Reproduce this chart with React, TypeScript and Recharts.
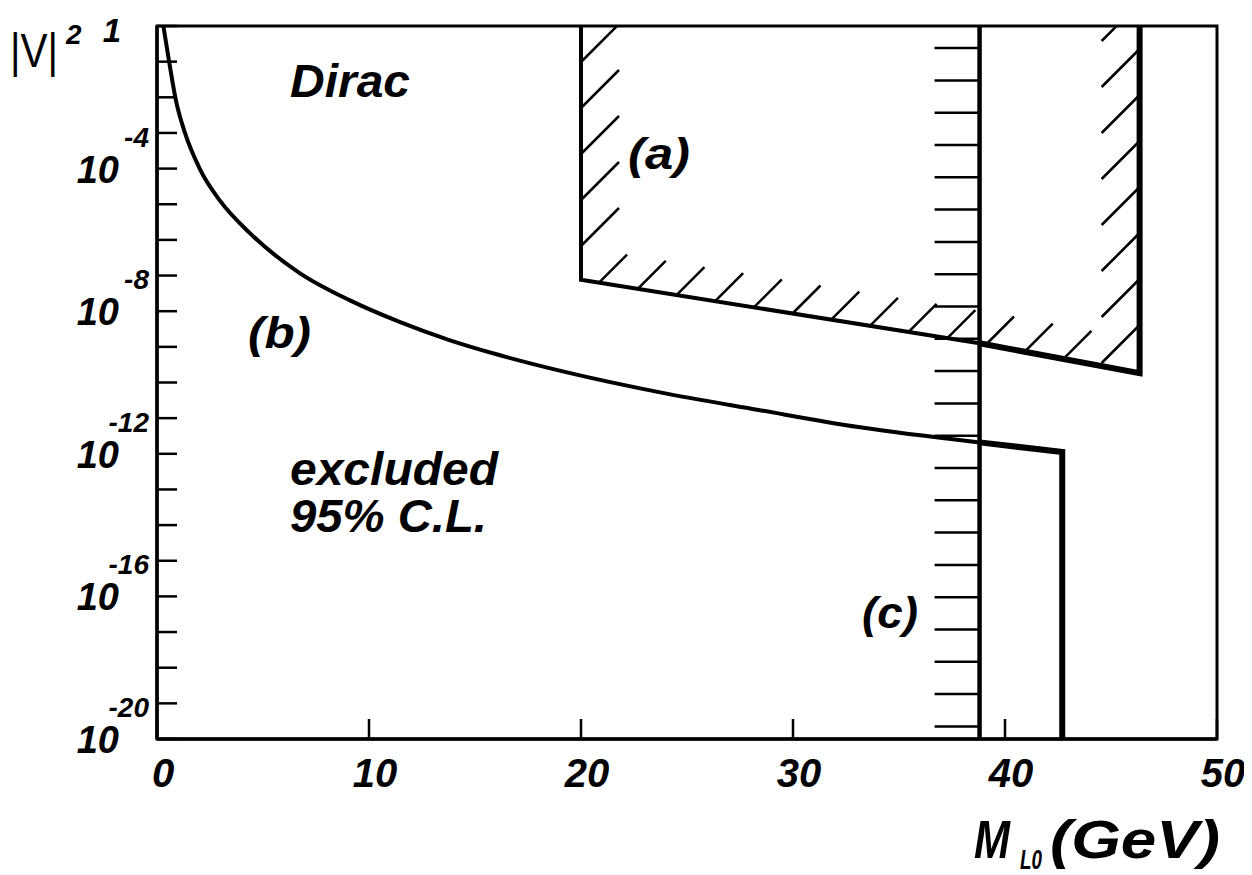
import React from 'react'
import { LineChart, Line, XAxis, YAxis, ReferenceArea } from 'recharts'

const W = 1236
const H = 866
const MARGIN = { top: 18, right: 27, bottom: 135, left: 149 }
const PLOT_LEFT = MARGIN.left
const PLOT_BOTTOM = H - MARGIN.bottom
// pixels per GeV and per decade, used to keep the hatch strokes at 45 degrees
const PX_X = (W - MARGIN.left - MARGIN.right) / 50
const PX_Y = (H - MARGIN.top - MARGIN.bottom) / 20

const FONT = "'Liberation Sans', Arial, Helvetica, sans-serif"

// axis ticks (y values are log10 |V|^2)
const majorX = [0, 10, 20, 30, 40, 50]
const minorX = [2, 4, 6, 8, 12, 14, 16, 18, 22, 24, 26, 28, 32, 34, 36, 38, 42, 44, 46, 48]
const majorY = [0, -1, -2, -3, -4, -5, -6, -7, -8, -9, -10, -11, -12, -13, -14, -15, -16, -17, -18, -19, -20]
const minorY = [-0.3, -1.3, -2.3, -3.3, -4.3, -5.3, -6.3, -7.3, -8.3, -9.3, -10.3, -11.3, -12.3, -13.3, -14.3, -15.3, -16.3, -17.3, -18.3, -19.3]
const labelledY = [0, -4, -8, -12, -16, -20]

// (b) limit curve
const bMass = [0.3, 0.6, 0.88, 1.32, 2.03, 2.97, 4.38, 6.73, 9.08, 11.44, 13.79, 16.14, 19.29, 23.67, 28.38, 33.08, 38.8]
const bLogV2 = [0, -1.1, -2.05, -3.0, -4.02, -4.9, -5.81, -6.93, -7.69, -8.3, -8.81, -9.23, -9.71, -10.27, -10.77, -11.25, -11.68]

// (b) continued past the (c) limit, then the drop at 42.7 GeV
const stepMass = [38.8, 42.7, 42.7]
const stepLogV2 = [-11.68, -11.95, -20]

// (c) mass limit
const cMass = [38.8, 38.8]
const cLogV2 = [0, -20]

// (a) excluded region boundary
const aLeftMass = [20, 20, 38.8]
const aLeftLogV2 = [0, -7.12, -8.9]
const aRightMass = [38.8, 46.35, 46.35]
const aRightLogV2 = [-8.9, -9.74, 0]

const pts = (xs: number[], ys: number[]) => xs.map((x, i) => ({ x, e: ys[i] }))

const aLowerMass = [20, 38.8, 46.35]
const aLowerLogV2 = [-7.12, -8.9, -9.74]
function aLower(x: number) {
  for (let i = 0; i < aLowerMass.length - 1; i++) {
    const x0 = aLowerMass[i], x1 = aLowerMass[i + 1]
    if (x <= x1) return aLowerLogV2[i] + ((x - x0) / (x1 - x0)) * (aLowerLogV2[i + 1] - aLowerLogV2[i])
  }
  return aLowerLogV2[aLowerLogV2.length - 1]
}

type Seg = [number, number, number, number]
function segData(segs: Seg[]) {
  const out: { x: number; e: number | null }[] = []
  segs.forEach(([x1, e1, x2, e2]) => {
    out.push({ x: x1, e: e1 }, { x: x2, e: e2 }, { x: x2, e: null })
  })
  return out
}

function hatchA(): Seg[] {
  const segs: Seg[] = []
  const longX = 38 / PX_X, longY = 38 / PX_Y
  const shortX = 28 / PX_X, shortY = 28 / PX_Y
  // along the left edge
  for (let e = -1.01; e > aLowerLogV2[0]; e -= 46 / PX_Y) {
    segs.push([20, e, 20 + longX, e + longY])
  }
  // along the lower edge
  for (let x = 20.85; x < 44.3; x += 38.7 / PX_X) {
    const e = aLower(x)
    segs.push([x, e, x + shortX, e + shortY])
  }
  // along the right edge
  for (let e = 0.645; e - longY > aLower(46.35 - longX); e -= 46 / PX_Y) {
    segs.push([46.35 - longX, e - longY, 46.35, e])
  }
  return segs
}

function hatchC(): Seg[] {
  const segs: Seg[] = []
  for (let e = -0.62; e > -20; e -= 32.3 / PX_Y) {
    segs.push([38.8 - 45 / PX_X, e, 38.8, e])
  }
  return segs
}

const XTick = (props: any) => {
  const { x, payload } = props
  return (
    <text x={x + 6} y={PLOT_BOTTOM + 48} textAnchor="middle" fontFamily={FONT} fontWeight="bold" fontStyle="italic" fontSize={40} fill="#000">
      {payload.value}
    </text>
  )
}

const YTick = (props: any) => {
  const { y, payload } = props
  const v = payload.value
  if (!labelledY.includes(v)) return <g />
  if (v === 0) {
    return (
      <text x={PLOT_LEFT - 36} y={y + 16} textAnchor="end" fontFamily={FONT} fontWeight="bold" fontStyle="italic" fontSize={33} fill="#000">
        1
      </text>
    )
  }
  return (
    <g fontFamily={FONT} fontWeight="bold" fontStyle="italic" fill="#000">
      <text x={PLOT_LEFT - 38} y={y + 14} textAnchor="end" fontSize={38}>10</text>
      <text x={PLOT_LEFT - 8} y={y - 22} textAnchor="end" fontSize={28}>{String(v)}</text>
    </g>
  )
}

export default function App() {
  const txt = { fontFamily: FONT, fontWeight: 'bold' as const, fontStyle: 'italic' as const, fill: '#000' }
  return (
    <div style={{ position: 'relative', width: W, height: H }}>
      <LineChart width={W} height={H} margin={MARGIN}>
        <XAxis xAxisId={0} type="number" dataKey="x" domain={[0, 50]} ticks={majorX} interval={0} allowDataOverflow
          mirror tickSize={20} tickMargin={0} tick={<XTick />} axisLine={{ stroke: '#000', strokeWidth: 3.5 }} tickLine={{ stroke: '#000', strokeWidth: 2.5 }} />
        <XAxis xAxisId="minor" type="number" dataKey="x" domain={[0, 50]} ticks={minorX} interval={0} allowDataOverflow
          mirror tickSize={10} tick={false} axisLine={false} tickLine={{ stroke: '#000', strokeWidth: 2.5 }} />
        <YAxis yAxisId={0} type="number" domain={[-20, 0]} ticks={majorY} interval={0} allowDataOverflow
          mirror tickSize={20} tickMargin={0} tick={<YTick />} axisLine={{ stroke: '#000', strokeWidth: 3.5 }} tickLine={{ stroke: '#000', strokeWidth: 2.5 }} />
        <YAxis yAxisId="minor" type="number" domain={[-20, 0]} ticks={minorY} interval={0} allowDataOverflow
          mirror tickSize={10} tick={false} axisLine={false} tickLine={{ stroke: '#000', strokeWidth: 2.5 }} />
        <ReferenceArea x1={0} x2={50} y1={-20} y2={0} fill="none" stroke="#000" strokeWidth={3} />

        <Line data={segData(hatchA())} dataKey="e" stroke="#000" strokeWidth={2.5} dot={false} connectNulls={false} isAnimationActive={false} />
        <Line data={segData(hatchC())} dataKey="e" stroke="#000" strokeWidth={2.5} dot={false} connectNulls={false} isAnimationActive={false} />
        <Line data={pts(aLeftMass, aLeftLogV2)} dataKey="e" stroke="#000" strokeWidth={4} dot={false} isAnimationActive={false} />
        <Line data={pts(aRightMass, aRightLogV2)} dataKey="e" stroke="#000" strokeWidth={6} dot={false} isAnimationActive={false} />
        <Line data={pts(cMass, cLogV2)} dataKey="e" stroke="#000" strokeWidth={4.5} dot={false} isAnimationActive={false} />
        <Line data={pts(bMass, bLogV2)} type="monotone" dataKey="e" stroke="#000" strokeWidth={4} dot={false} isAnimationActive={false} />
        <Line data={pts(stepMass, stepLogV2)} dataKey="e" stroke="#000" strokeWidth={6} dot={false} isAnimationActive={false} />
      </LineChart>

      <svg width={W} height={H} style={{ position: 'absolute', left: 0, top: 0, pointerEvents: 'none', overflow: 'visible' }}>
        <text x={2} y={59} fontFamily={FONT} fontSize={48} textLength={48} lengthAdjust="spacingAndGlyphs" fill="#000">|V|</text>
        <text x={58} y={36} fontSize={28} {...txt}>2</text>

        <text x={282} y={89} fontSize={46} textLength={120} lengthAdjust="spacingAndGlyphs" {...txt}>Dirac</text>
        <text x={620} y={161} fontSize={44} textLength={62} lengthAdjust="spacingAndGlyphs" {...txt}>(a)</text>
        <text x={240} y={340} fontSize={44} textLength={63} lengthAdjust="spacingAndGlyphs" {...txt}>(b)</text>
        <text x={282} y={477} fontSize={46} textLength={208} lengthAdjust="spacingAndGlyphs" {...txt}>excluded</text>
        <text x={282} y={524} fontSize={46} textLength={197} lengthAdjust="spacingAndGlyphs" {...txt}>95% C.L.</text>
        <text x={854} y={620} fontSize={44} textLength={56} lengthAdjust="spacingAndGlyphs" {...txt}>(c)</text>

        <text x={966} y={850} fontSize={54} textLength={36} lengthAdjust="spacingAndGlyphs" {...txt}>M</text>
        <text x={1012} y={861} fontSize={28} textLength={22} lengthAdjust="spacingAndGlyphs" {...txt}>L0</text>
        <text x={1042} y={850} fontSize={54} textLength={170} lengthAdjust="spacingAndGlyphs" {...txt}>(GeV)</text>
      </svg>
    </div>
  )
}
